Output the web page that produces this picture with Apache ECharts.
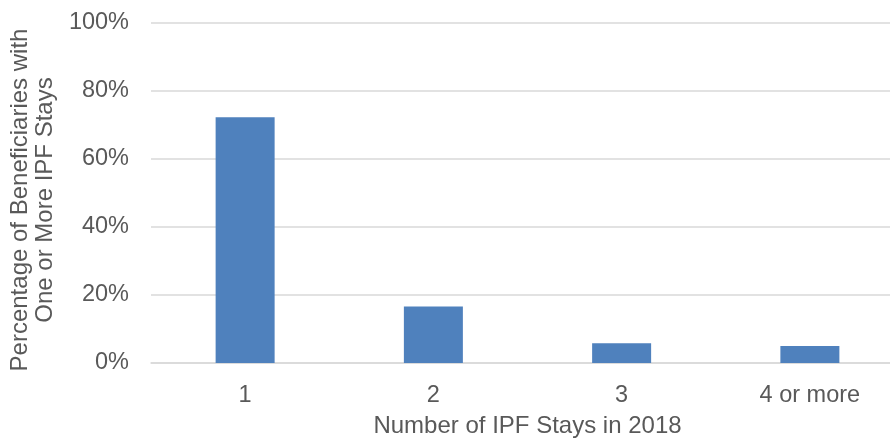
<!DOCTYPE html>
<html>
<head>
<meta charset="utf-8">
<script src="https://cdn.jsdelivr.net/npm/echarts@6/dist/echarts.min.js"></script>
<style>
  html, body { margin: 0; padding: 0; background: #ffffff; }
  #chart { width: 890px; height: 438px; }
</style>
</head>
<body>
<div id="chart"></div>
<script>
// Share of beneficiaries by number of inpatient psychiatric facility stays
const categories = ['1', '2', '3', '4 or more'];
const shareValues = [72.3, 16.6, 5.8, 5.0];
const yTicks = [0, 20, 40, 60, 80, 100];

const textColor = '#595959';
const gridColor = '#d9d9d9';
const fontFamily = '"Liberation Sans", Arial, sans-serif';

const chart = echarts.init(document.getElementById('chart'), null, { renderer: 'canvas' });

chart.setOption({
  animation: false,
  backgroundColor: '#ffffff',
  grid: {
    left: 151, right: -14, top: 23, bottom: 75,
    containLabel: false, outerBoundsMode: 'none'
  },
  xAxis: {
    type: 'category',
    data: categories,
    name: 'Number of IPF Stays in 2018',
    nameLocation: 'middle',
    nameGap: 51,
    nameTextStyle: { color: textColor, fontSize: 24, fontFamily: fontFamily },
    axisLine: { show: true, lineStyle: { color: gridColor, width: 1.5 } },
    axisTick: { show: false },
    axisLabel: { color: textColor, fontSize: 23.5, fontFamily: fontFamily, margin: 21 }
  },
  yAxis: {
    type: 'value',
    min: yTicks[0],
    max: yTicks[yTicks.length - 1],
    interval: 20,
    name: 'Percentage of Beneficiaries with\nOne or More IPF Stays',
    nameLocation: 'middle',
    nameGap: 93,
    nameRotate: 90,
    nameTextStyle: {
      color: textColor, fontSize: 24, fontFamily: fontFamily, lineHeight: 25,
      padding: [0, 14, 0, 0]
    },
    axisLine: { show: false },
    axisTick: { show: false },
    axisLabel: {
      color: textColor, fontSize: 23.5, fontFamily: fontFamily, margin: 22,
      formatter: v => v + '%'
    },
    splitLine: { show: true, lineStyle: { color: gridColor, width: 1.5 } }
  },
  series: [{
    type: 'bar',
    data: shareValues,
    barWidth: 59,
    itemStyle: { color: '#4f81bd' }
  }]
});
</script>
</body>
</html>
